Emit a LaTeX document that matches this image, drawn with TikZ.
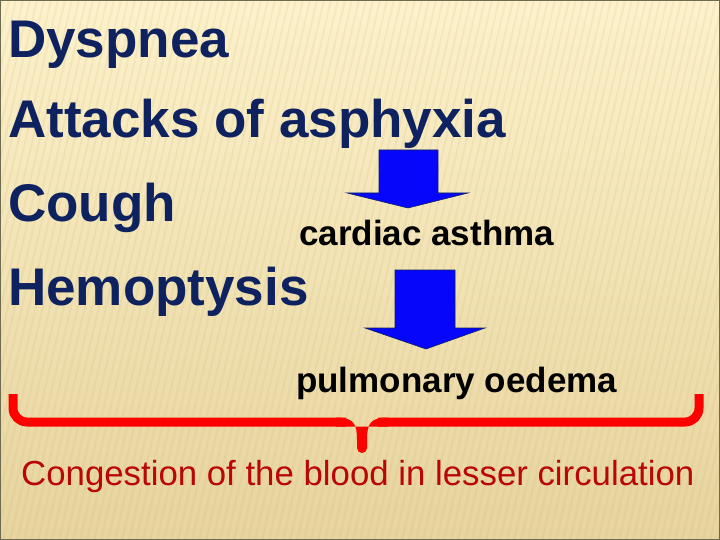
\documentclass[tikz,border=0pt]{standalone}
\usepackage{fontspec}
\setmainfont{Liberation Sans}
\usetikzlibrary{positioning, calc}
\definecolor{navy}{RGB}{14,34,96}
\definecolor{darkred}{RGB}{185,6,6}
\definecolor{slidetop}{RGB}{253,242,204}
\definecolor{slidebottom}{RGB}{231,212,158}
\definecolor{stripe}{RGB}{200,172,100}
\tikzset{
	every node/.style={inner sep=0pt, anchor=base west}
}

\begin{document}
\begin{tikzpicture}[x=1pt, y=-1pt,
	symptom/.style={text=navy, font=\fontsize{53}{60}\selectfont\bfseries},
	stage/.style={text=black, font=\fontsize{35}{40}\selectfont\bfseries},
	result/.style={text=darkred, font=\fontsize{34.8}{40}\selectfont},
	bluearrow/.style={fill={rgb,255:red,6;green,6;blue,250}, draw=navy, line width=0.6pt, line join=miter},
	redbrace/.style={draw=red, line width=9pt, rounded corners=14pt}]
	\useasboundingbox (0,0) rectangle (720,540);
	% background
	\shade[top color=slidetop, bottom color=slidebottom] (0,0) rectangle (720,540);
	\begin{scope}
		\clip (0,0) rectangle (720,540);
		\foreach \i in {-130,-123,...,720}
			\draw[stripe, opacity=0.13, line width=2pt] (\i,540) -- (\i+125,0);
	\end{scope}
	\draw[draw={rgb,255:red,110;green,108;blue,80}, line width=2pt] (0,0) rectangle (720,540);
	% symptoms
	\node[symptom] (dysp) at (8,58) {Dyspnea};
	\node[symptom] (asph) at (8,138) {Attacks of asphyxia};
	\node[symptom] (cough) at (8,222) {Cough};
	\node[symptom] (hemo) at (8,305) {Hemoptysis};
	% stages
	\node[stage] (asthma) at (299,245) {cardiac asthma};
	\node[stage] (oedema) at (296,392) {pulmonary oedema};
	\draw[bluearrow] (379,150) -- (438,150) -- (438,193) -- (468,193) -- (408,208)
		-- (347,193) -- (379,193) -- cycle;
	\draw[bluearrow] (395,270) -- (455,270) -- (455,328) -- (485,328) -- (426,349)
		-- (365,328) -- (395,328) -- cycle;
	% brace and result
	\draw[redbrace] (13,394) -- (13,422) -- (346,422);
	\draw[redbrace] (378,422) -- (699,422) -- (699,394);
	\fill[red] (336,417.5) .. controls (354,417.5) and (357,424) .. (357,440)
		-- (357,448) arc[start angle=180, end angle=360, radius=5pt]
		-- (367,440) .. controls (367,424) and (370,417.5) .. (388,417.5)
		-- (388,426.5) -- (336,426.5) -- cycle;
	\node[result] (cong) at (21,485) {Congestion of the blood in lesser circulation};
\end{tikzpicture}
\end{document}
